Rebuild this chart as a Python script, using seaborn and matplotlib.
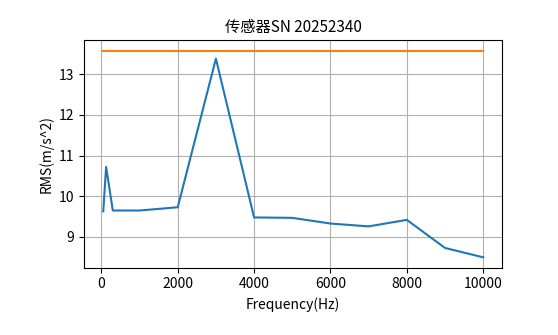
import matplotlib
matplotlib.use("Agg")
import matplotlib.pyplot as plt
import seaborn as sns
import pandas as pd

freqs = [50, 125, 300, 1000, 2000, 3000, 4000, 5000, 6000, 7000, 8000, 9000, 10000]
rms_values = [9.63, 10.72, 9.65, 9.65, 9.73, 13.38, 9.48, 9.47, 9.33, 9.26, 9.42, 8.73, 8.50]
limit_values = [13.58, 13.58, 13.58, 13.58, 13.58, 13.58, 13.58, 13.58, 13.58, 13.58, 13.58, 13.58, 13.58]
title = "传感器SN 20252340"
xlabel = "Frequency(Hz)"
ylabel = "RMS(m/s^2)"

plt.rcParams['font.family'] = ['Noto Sans CJK SC', 'DejaVu Sans']
plt.rcParams['axes.unicode_minus'] = False

df = pd.DataFrame({"freq": freqs, "rms": rms_values, "limit": limit_values})

fig = plt.figure(figsize=(5.58, 3.35), dpi=100)
ax = fig.add_axes([0.151, 0.201, 0.749, 0.679])
sns.lineplot(data=df, x="freq", y="rms", ax=ax, color="#1f77b4", linewidth=1.5)
sns.lineplot(data=df, x="freq", y="limit", ax=ax, color="#ff7f0e", linewidth=1.5)
ax.grid(True, color="#b0b0b0", linewidth=0.8)
ax.set_axisbelow(True)
ax.set_title(title, fontsize=11)
ax.set_xlabel(xlabel, fontsize=10)
ax.set_ylabel(ylabel, fontsize=10)
ax.set_xticks([0, 2000, 4000, 6000, 8000, 10000])
ax.set_yticks([9, 10, 11, 12, 13])
fig.savefig("out.png", dpi=100)
